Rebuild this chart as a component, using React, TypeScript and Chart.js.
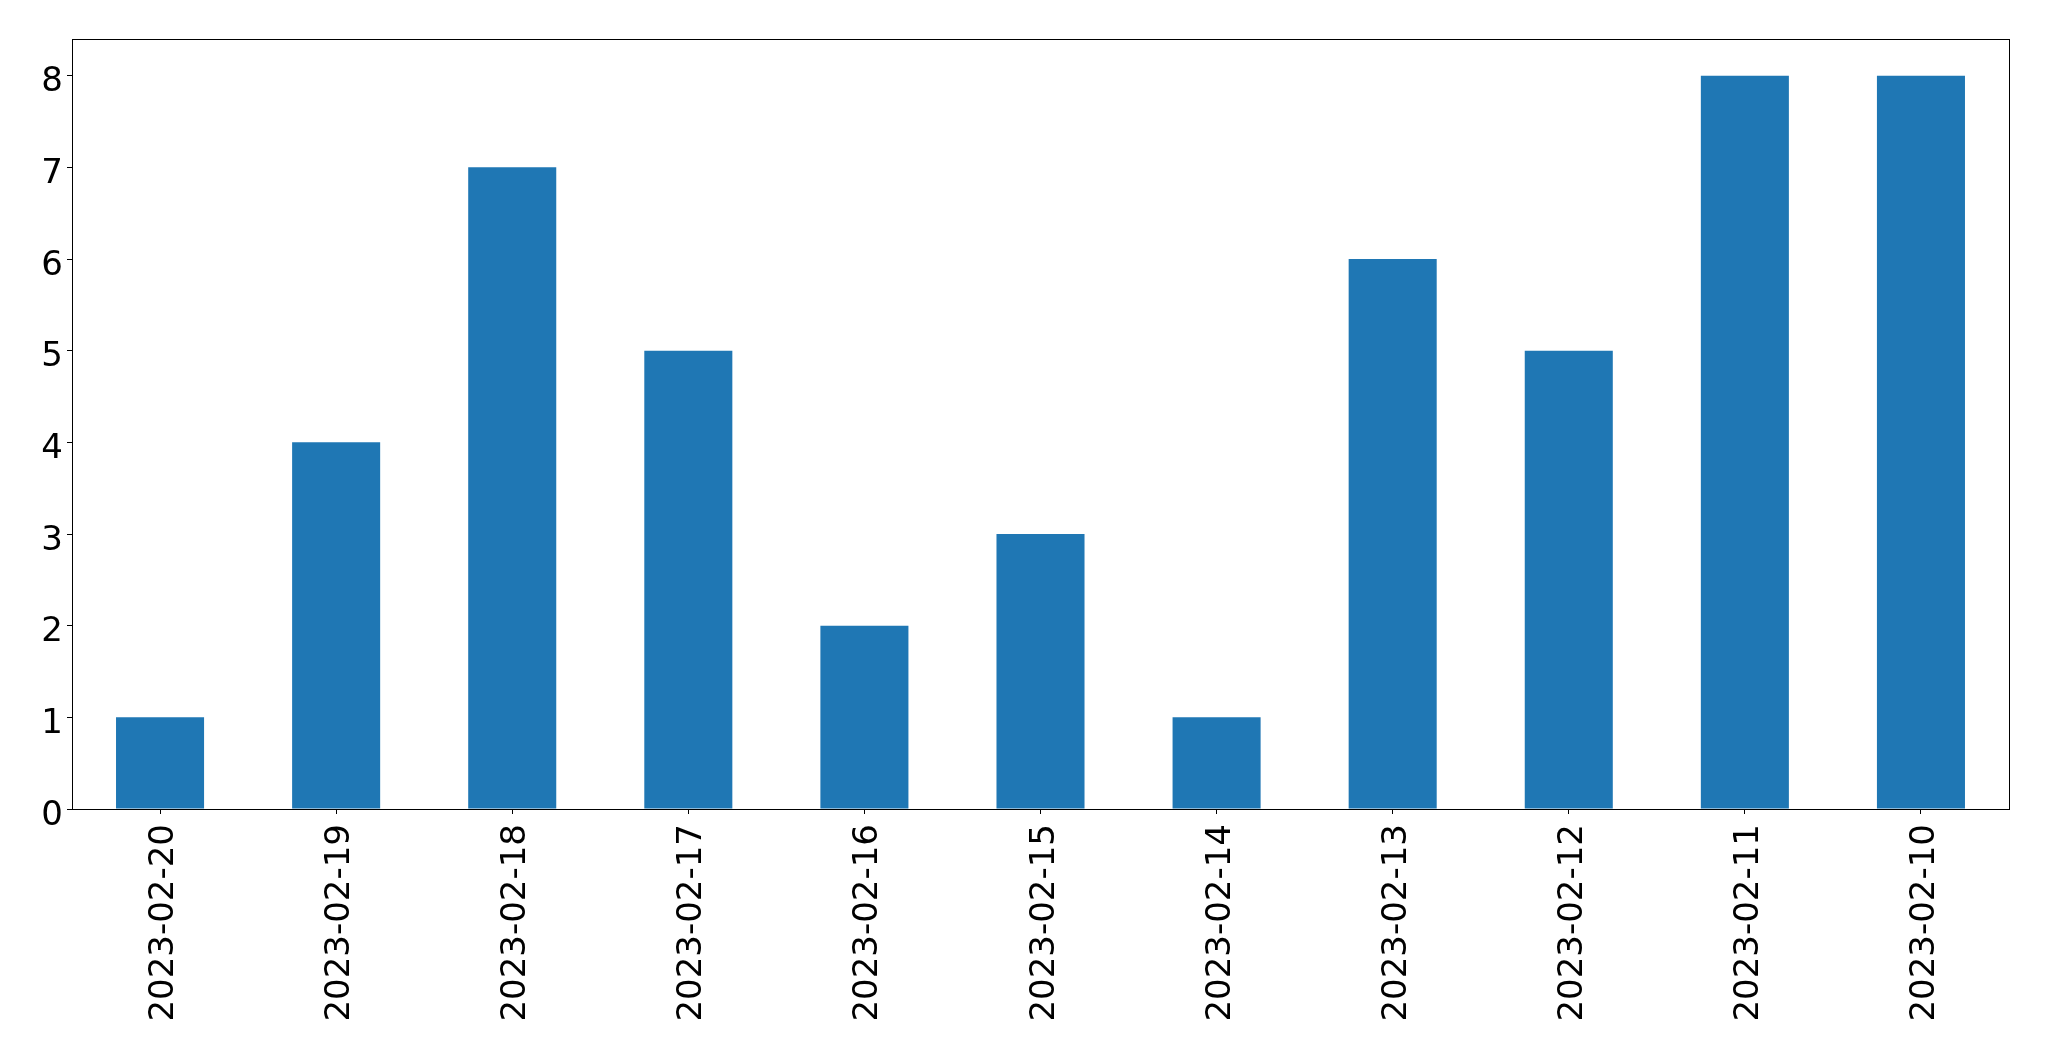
import React, { useEffect, useRef } from "react";
import { Chart, registerables } from "chart.js";

Chart.register(...registerables);

const categories = [
  "2023-02-20", "2023-02-19", "2023-02-18", "2023-02-17", "2023-02-16", "2023-02-15",
  "2023-02-14", "2023-02-13", "2023-02-12", "2023-02-11", "2023-02-10",
];
const counts = [1, 4, 7, 5, 2, 3, 1, 6, 5, 8, 8];
const yTickValues = [0, 1, 2, 3, 4, 5, 6, 7, 8];
const yMax = 8.4;

const W = 2049;
const H = 1061;
const FONT = "'DejaVu Sans', sans-serif";
const FONT_SIZE = 34;

const frame = {
  id: "frame",
  afterDatasetsDraw(chart: any) {
    const { ctx, chartArea } = chart;
    ctx.save();
    ctx.strokeStyle = "#000";
    ctx.lineWidth = 1;
    ctx.strokeRect(
      Math.round(chartArea.left) + 0.5,
      Math.round(chartArea.top) + 0.5,
      Math.round(chartArea.right - chartArea.left),
      Math.round(chartArea.bottom - chartArea.top)
    );
    ctx.restore();
  },
};

const tickLabels = {
  id: "tickLabels",
  afterDraw(chart: any) {
    const { ctx, chartArea } = chart;
    const xs = chart.scales.x;
    const ys = chart.scales.y;
    ctx.save();
    ctx.fillStyle = "#000";
    ctx.font = `${FONT_SIZE}px ${FONT}`;
    // y labels
    ctx.textAlign = "right";
    ctx.textBaseline = "alphabetic";
    ys.ticks.forEach((t: any) => {
      const y = ys.getPixelForValue(t.value);
      ctx.fillText(String(t.value), chartArea.left - 9, y + 15.5);
    });
    // x labels, rotated 90°
    categories.forEach((label, i) => {
      const x = xs.getPixelForTick(i);
      ctx.save();
      ctx.translate(x, chartArea.bottom + 15);
      ctx.rotate(-Math.PI / 2);
      ctx.textAlign = "right";
      ctx.textBaseline = "alphabetic";
      ctx.fillText(label, 0, 13);
      ctx.restore();
    });
    ctx.restore();
  },
};

export default function App() {
  const ref = useRef<HTMLCanvasElement | null>(null);
  useEffect(() => {
    if (!ref.current) return;
    const chart = new Chart(ref.current, {
      type: "bar",
      data: {
        labels: categories,
        datasets: [
          {
            data: counts,
            backgroundColor: "#1f77b4",
            borderWidth: 0,
            barPercentage: 0.5,
            categoryPercentage: 1,
          },
        ],
      },
      options: {
        responsive: false,
        animation: false,
        devicePixelRatio: 1,
        layout: { padding: { top: 39, right: 40, left: 0, bottom: 0 } },
        plugins: { legend: { display: false }, tooltip: { enabled: false } },
        scales: {
          x: {
            offset: true,
            grid: {
              display: true,
              offset: false,
              drawOnChartArea: false,
              drawTicks: true,
              tickLength: 5,
              tickColor: "#000",
              color: "#000",
            },
            border: { display: false },
            ticks: { display: false, autoSkip: false },
            afterFit(scale: any) {
              scale.height = 252;
            },
          },
          y: {
            min: 0,
            max: yMax,
            grid: {
              display: true,
              drawOnChartArea: false,
              drawTicks: true,
              tickLength: 5,
              tickColor: "#000",
              color: "#000",
            },
            border: { display: false },
            ticks: { display: false },
            afterBuildTicks(scale: any) {
              scale.ticks = yTickValues.map((v) => ({ value: v }));
            },
            afterFit(scale: any) {
              scale.width = 72;
            },
          },
        },
      },
      plugins: [frame, tickLabels],
    });
    return () => chart.destroy();
  }, []);
  return (
    <div style={{ position: "absolute", left: 0, top: 0, width: W, height: H, background: "#fff" }}>
      <canvas ref={ref} width={W} height={H} style={{ display: "block", width: W, height: H }} />
    </div>
  );
}
